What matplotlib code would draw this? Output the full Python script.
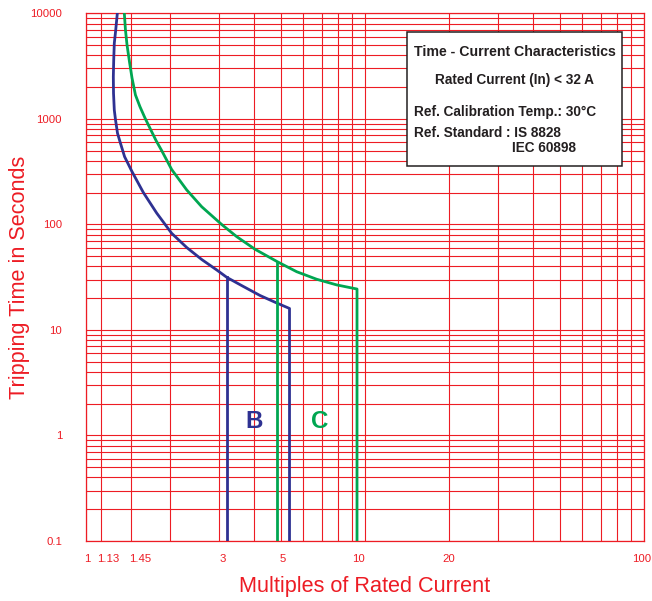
import matplotlib
matplotlib.use('Agg')
import matplotlib.pyplot as plt
import matplotlib.transforms as mtransforms
from matplotlib.patches import Rectangle
from matplotlib.ticker import FixedLocator, FixedFormatter, NullFormatter

plt.rcParams['font.family'] = ['Liberation Sans', 'DejaVu Sans']

# ---------------- data ----------------
b_curve_x = [1.295, 1.278, 1.263, 1.257, 1.253, 1.255, 1.263, 1.276, 1.297, 1.329,
             1.375, 1.462, 1.605, 1.792, 2.028, 2.296, 2.598, 2.941, 3.201, 3.664,
             4.204, 4.825, 5.363]
b_curve_t = [10000, 6947, 5197, 3611, 2507, 1746, 1213, 975, 730, 587,
             438, 316, 200.5, 128, 82.3, 60.4, 46.5, 37.0, 31.4, 25.8,
             21.2, 18.0, 15.97]
b_inst_x = 3.201
b_inst_t = 31.4

c_curve_x = [1.372, 1.385, 1.403, 1.432, 1.462, 1.504, 1.561, 1.627, 1.696, 1.782,
             1.867, 2.028, 2.296, 2.598, 3.064, 3.469, 4.035, 4.850, 5.691, 6.713,
             7.916, 9.362]
c_curve_t = [10000, 6947, 5008, 3456, 2438, 1683, 1304, 1019, 814, 624,
             501, 331, 212, 147, 99.8, 76.5, 58.1, 44.3, 35.6, 30.2,
             26.7, 24.4]
c_inst_x = 4.850
c_inst_t = 44.3

t_min = 0.1

x_tick_vals = [1, 1.13, 1.45, 3, 5, 10, 20, 100]
x_tick_labels = ['1', '1.13', '1.45', '3', '5', '10', '20', '100']
x_grid_extra = [2, 4, 6, 7, 8, 9, 30, 40, 50, 60, 70, 80, 90]
y_tick_vals = [0.1, 1, 10, 100, 1000, 10000]
y_tick_labels = ['0.1', '1', '10', '100', '1000', '10000']
y_grid_minor = [m * d for d in [0.1, 1, 10, 100, 1000] for m in range(2, 10)]

box_lines = ['Time - Current Characteristics',
             'Rated Current (In) < 32 A',
             'Ref. Calibration Temp.: 30°C',
             'Ref. Standard : IS 8828',
             'IEC 60898']

# ---------------- style ----------------
RED = '#ed1c24'
BLUE = '#2e3192'
GREEN = '#00a651'
DARK = '#231f20'
W, H = 652, 601

fig = plt.figure(figsize=(W / 100, H / 100), dpi=100)
ax_l, ax_r, ax_t, ax_b = 86, 644, 13.3, 541
ax = fig.add_axes([ax_l / W, 1 - ax_b / H, (ax_r - ax_l) / W, (ax_b - ax_t) / H])

ax.set_xscale('log')
ax.set_yscale('log')
ax.set_xlim(1, 100)
ax.set_ylim(0.1, 10000)

ax.xaxis.set_major_locator(FixedLocator(x_tick_vals))
ax.xaxis.set_major_formatter(FixedFormatter(x_tick_labels))
ax.xaxis.set_minor_locator(FixedLocator(x_grid_extra))
ax.xaxis.set_minor_formatter(NullFormatter())
ax.yaxis.set_major_locator(FixedLocator(y_tick_vals))
ax.yaxis.set_major_formatter(FixedFormatter(y_tick_labels))
ax.yaxis.set_minor_locator(FixedLocator(y_grid_minor))
ax.yaxis.set_minor_formatter(NullFormatter())

ax.grid(True, which='both', color=RED, lw=0.8, zorder=0)
ax.set_axisbelow(True)
for s in ax.spines.values():
    s.set_color(RED)
    s.set_linewidth(0.9)

ax.tick_params(axis='both', which='both', length=0, colors=RED, labelsize=8.2)
ax.tick_params(axis='x', which='major', pad=9.0)
ax.tick_params(axis='y', which='major', pad=17.3)

# small horizontal nudges of x tick labels as in the reference
x_label_nudge_px = [1, 7.5, 9, 4, 2, -7, 0, -2]
for lab, dx in zip(ax.get_xticklabels(), x_label_nudge_px):
    lab.set_transform(lab.get_transform() +
                      mtransforms.ScaledTranslation(dx / 100, 0, fig.dpi_scale_trans))

# curves
ax.plot(b_curve_x + [b_curve_x[-1]], b_curve_t + [t_min], color=BLUE, lw=2.0,
        solid_joinstyle='round', zorder=3)
ax.plot([b_inst_x, b_inst_x], [b_inst_t, t_min], color=BLUE, lw=2.0, zorder=3)
ax.plot(c_curve_x + [c_curve_x[-1]], c_curve_t + [t_min], color=GREEN, lw=2.0,
        solid_joinstyle='round', zorder=3)
ax.plot([c_inst_x, c_inst_x], [c_inst_t, t_min], color=GREEN, lw=2.0, zorder=3)

# axis labels
ax.set_xlabel('Multiples of Rated Current', color=RED, fontsize=15.6, va='baseline')
ax.xaxis.set_label_coords(0.5, (ax_b - 592.3) / (ax_b - ax_t))
ax.set_ylabel('Tripping Time in Seconds', color=RED, fontsize=15.6, va='baseline')
ax.yaxis.set_label_coords((25 - ax_l) / (ax_r - ax_l), 0.5)

# curve labels
def fx(px):
    return px / W

def fy(py):
    return 1 - py / H

fig.text(fx(254), fy(428.3), 'B', color=BLUE, fontsize=17.4, fontweight='bold',
         ha='center', va='baseline', zorder=6)
fig.text(fx(320), fy(428.3), 'C', color=GREEN, fontsize=17.4, fontweight='bold',
         ha='center', va='baseline', zorder=6)

# info box
bx0, by0, bx1, by1 = 407.3, 31.7, 622.3, 165.7
rect = Rectangle((fx(bx0), fy(by1)), (bx1 - bx0) / W, (by1 - by0) / H,
                 transform=fig.transFigure, facecolor='white', edgecolor=DARK,
                 lw=1.1, zorder=5)
fig.patches.append(rect)
bcx = (bx0 + bx1) / 2
fig.text(fx(bcx), fy(56.0), box_lines[0], color=DARK, fontsize=10.2, fontweight='bold',
         ha='center', va='baseline', zorder=6)
fig.text(fx(bcx), fy(84.0), box_lines[1], color=DARK, fontsize=9.8, fontweight='bold',
         ha='center', va='baseline', zorder=6)
fig.text(fx(414), fy(115.7), box_lines[2], color=DARK, fontsize=9.8, fontweight='bold',
         ha='left', va='baseline', zorder=6)
fig.text(fx(414), fy(137.3), box_lines[3], color=DARK, fontsize=9.8, fontweight='bold',
         ha='left', va='baseline', zorder=6)
fig.text(fx(512.3), fy(152.3), box_lines[4], color=DARK, fontsize=9.8, fontweight='bold',
         ha='left', va='baseline', zorder=6)

fig.savefig('out.png', dpi=100, facecolor='white')
